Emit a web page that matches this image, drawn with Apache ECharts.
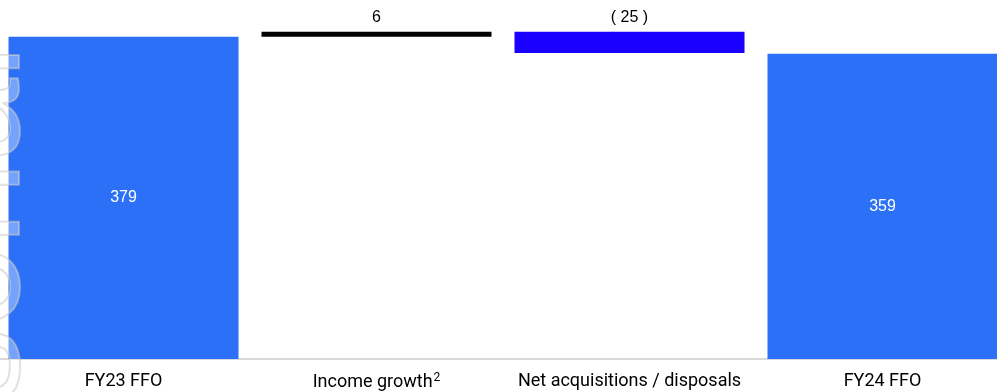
<!DOCTYPE html>
<html>
<head>
<meta charset="utf-8">
<style>
  html, body { margin: 0; padding: 0; background: #ffffff; }
  #chart { width: 997px; height: 392px; }
</style>
<script src="https://cdn.jsdelivr.net/npm/echarts@6/dist/echarts.min.js"></script>
</head>
<body>
<div id="chart"></div>
<script>
// FFO bridge, £m
const categories = ['FY23 FFO', 'Income growth', 'Net acquisitions / disposals', 'FY24 FFO'];
const stepValues = [379, 6, -25, 359];
const stepKinds = ['total', 'delta', 'delta', 'total'];
const stepLabels = ['379', '6', '( 25 )', '359'];

const colTotal = '#2B70F7';
const colUp = '#000000';
const colDown = '#1A00FF';

// running totals give the invisible base for each floating step
const baseData = [];
const barData = [];
let running = 0;
stepValues.forEach((v, i) => {
  if (stepKinds[i] === 'total') {
    baseData.push(0);
    barData.push({ value: v, itemStyle: { color: colTotal },
      label: { position: 'inside', color: '#ffffff', formatter: stepLabels[i] } });
    running = v;
  } else {
    const lo = v >= 0 ? running : running + v;
    baseData.push(lo);
    barData.push({ value: Math.abs(v), itemStyle: { color: v >= 0 ? colUp : colDown },
      label: { position: 'top', color: '#000000', formatter: stepLabels[i] } });
    running += v;
  }
});

const labelFont = 'Roboto, "Liberation Sans", sans-serif';

const chart = echarts.init(document.getElementById('chart'), null, { renderer: 'canvas' });
chart.setOption({
  animation: false,
  backgroundColor: '#ffffff',
  grid: { left: -3, right: -12, top: 19, bottom: 33, containLabel: false, outerBoundsMode: 'none' },
  xAxis: {
    type: 'category',
    data: categories,
    axisLine: { show: true, lineStyle: { color: '#d9d9d9', width: 2 } },
    axisTick: { show: false },
    axisLabel: {
      interval: 0,
      margin: 13,
      fontFamily: labelFont,
      fontSize: 18,
      color: '#000000',
      formatter: function (v) { return v === 'Income growth' ? '{t|Income growth}{s|2}' : '{t|' + v + '}'; },
      rich: {
        t: { fontFamily: labelFont, fontSize: 18, color: '#000' },
        s: { fontFamily: labelFont, fontSize: 12, color: '#000', verticalAlign: 'top', padding: [0, 0, 9, 1] }
      }
    }
  },
  yAxis: {
    type: 'value', min: 0, max: 400,
    show: false,
    splitLine: { show: false }
  },
  series: [
    {
      type: 'bar', stack: 'w', silent: true,
      itemStyle: { color: 'transparent' },
      data: baseData, barWidth: 230
    },
    {
      type: 'bar', stack: 'w',
      data: barData, barWidth: 230,
      label: { show: true, fontFamily: '"Liberation Sans", Arial, sans-serif', fontSize: 16, distance: 6 }
    }
  ],
  graphic: [{
    type: 'text',
    x: 53, y: 45,
    rotation: Math.PI / 2,
    z: 100,
    silent: true,
    style: {
      text: 'Personal',
      x: 0, y: 0,
      textAlign: 'right',
      textVerticalAlign: 'bottom',
      font: '150px "Liberation Sans", sans-serif',
      fill: 'rgba(255,255,255,0.35)',
      stroke: 'rgba(190,190,190,0.55)',
      lineWidth: 2
    }
  }]
});
</script>
</body>
</html>
